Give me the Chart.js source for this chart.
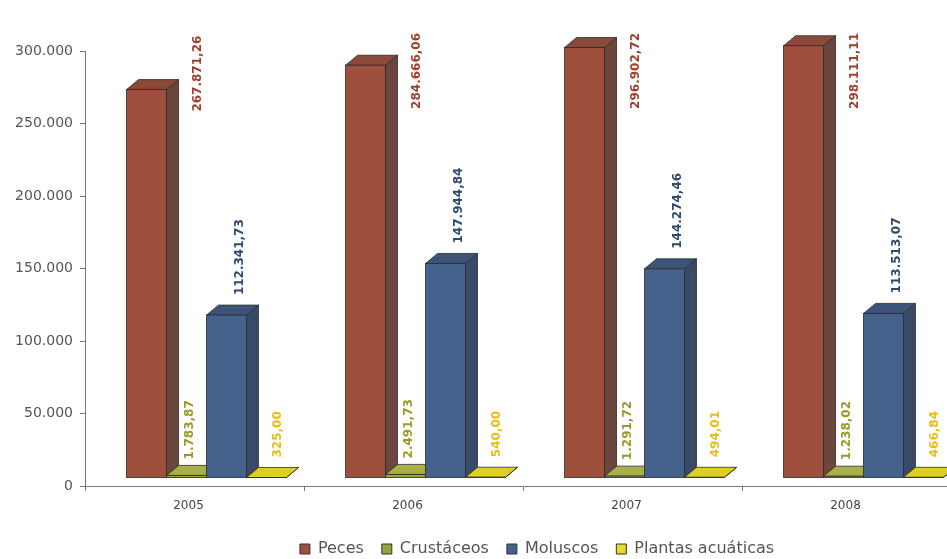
<!DOCTYPE html>
<html>
<head>
<meta charset="utf-8">
<script src="https://cdn.jsdelivr.net/npm/chart.js@4/dist/chart.umd.min.js"></script>
<style>
  html, body { margin: 0; padding: 0; background: #fff; overflow: hidden; }
  #wrap { width: 1074px; height: 567px; }
</style>
</head>
<body>
<div id="wrap"><canvas id="chart"></canvas></div>
<script>
const years = ['2005', '2006', '2007', '2008'];
const peces = [267871.26, 284666.06, 296902.72, 298111.11];
const crustaceos = [1783.87, 2491.73, 1291.72, 1238.02];
const moluscos = [112341.73, 147944.84, 144274.46, 113513.07];
const plantas = [325.00, 540.00, 494.01, 466.84];
const yTicks = [0, 50000, 100000, 150000, 200000, 250000, 300000];

// faces: front, top, side, label colour
const looks = [
  { front: '#9e503c', top: '#8a4a3a', side: '#6c463c', label: '#a0402c', lx: 51, ly: 22 },
  { front: '#9aa23a', top: '#a9b046', side: '#7d8430', label: '#9a9a2a', lx: 3, ly: -16 },
  { front: '#45628c', top: '#3d5478', side: '#394a66', label: '#2f4a70', lx: 13, ly: -20 },
  { front: '#e8dc2a', top: '#ddd020', side: '#c0b41c', label: '#e6bf1a', lx: 11, ly: -20 }
];
const SHIFT_X = 12, SHIFT_Y = -8, DX = 12, DY = 10;

function fmt(v, dec) {
  const parts = v.toFixed(dec).split('.');
  const int = parts[0].replace(/\B(?=(\d{3})+(?!\d))/g, '.');
  return parts[1] ? int + ',' + parts[1] : int;
}

function poly(ctx, pts, fill) {
  ctx.beginPath();
  ctx.moveTo(pts[0][0], pts[0][1]);
  for (let i = 1; i < pts.length; i++) ctx.lineTo(pts[i][0], pts[i][1]);
  ctx.closePath();
  ctx.fillStyle = fill;
  ctx.fill();
  ctx.stroke();
}

// draws the bars as 3D boxes from the bar elements that Chart.js laid out
const bars3d = {
  id: 'bars3d',
  beforeDatasetsDraw(chart) {
    const ctx = chart.ctx;
    ctx.save();
    ctx.lineWidth = 0.8;
    ctx.strokeStyle = '#2b2b2b';
    const n = chart.data.labels.length;
    for (let j = 0; j < n; j++) {
      chart.data.datasets.forEach((ds, i) => {
        const el = chart.getDatasetMeta(i).data[j];
        const look = looks[i];
        const l = el.x - el.width / 2 + SHIFT_X, r = el.x + el.width / 2 + SHIFT_X;
        const t = el.y + SHIFT_Y, b = el.base + SHIFT_Y;
        poly(ctx, [[r, t], [r + DX, t - DY], [r + DX, b - DY], [r, b]], look.side);
        poly(ctx, [[l, t], [r, t], [r + DX, t - DY], [l + DX, t - DY]], look.top);
        ctx.fillStyle = look.front;
        ctx.fillRect(l, t, r - l, b - t);
        ctx.strokeRect(l, t, r - l, b - t);
      });
    }
    // value labels, rotated
    ctx.font = 'bold 12px "DejaVu Sans"';
    ctx.textAlign = 'left';
    ctx.textBaseline = 'middle';
    chart.data.datasets.forEach((ds, i) => {
      const look = looks[i];
      chart.getDatasetMeta(i).data.forEach((el, j) => {
        const text = fmt(ds.data[j], 2);
        const w = ctx.measureText(text).width;
        let start = el.y + SHIFT_Y + look.ly;
        if (i === 0) start = Math.max(start, 33 + w);
        ctx.save();
        ctx.translate(el.x + SHIFT_X + look.lx, start);
        ctx.rotate(-Math.PI / 2);
        ctx.fillStyle = look.label;
        ctx.fillText(text, 0, 0);
        ctx.restore();
      });
    });
    ctx.restore();
    return false;
  }
};

const names = ['Peces', 'Crustáceos', 'Moluscos', 'Plantas acuáticas'];
const series = [peces, crustaceos, moluscos, plantas];

new Chart(document.getElementById('chart'), {
  type: 'bar',
  data: {
    labels: years,
    datasets: series.map((data, i) => ({
      label: names[i],
      data,
      backgroundColor: looks[i].front,
      borderColor: '#333',
      borderWidth: 1,
      categoryPercentage: 0.73,
      barPercentage: 1.0
    }))
  },
  options: {
    responsive: true,
    maintainAspectRatio: false,
    animation: false,
    layout: { padding: { top: 51, right: 0, left: 0, bottom: 0 } },
    plugins: {
      tooltip: { enabled: false },
      legend: {
        position: 'bottom',
        labels: {
          font: { family: 'DejaVu Sans', size: 16 },
          color: '#555',
          boxWidth: 10,
          boxHeight: 10,
          padding: 18
        }
      }
    },
    scales: {
      x: {
        afterFit: (s) => { s.height = 37; },
        grid: { offset: true, drawOnChartArea: false, tickLength: 5, color: '#777' },
        border: { color: '#777' },
        ticks: { font: { family: 'DejaVu Sans', size: 12 }, color: '#444', padding: 8, labelOffset: -6 }
      },
      y: {
        min: 0,
        max: 300000,
        afterFit: (s) => { s.width = 85; },
        afterBuildTicks: (s) => { s.ticks = yTicks.map(v => ({ value: v })); },
        grid: { drawOnChartArea: false, tickLength: 5, color: '#777' },
        border: { color: '#777' },
        ticks: {
          font: { family: 'DejaVu Sans', size: 14 },
          color: '#555',
          padding: 7,
          callback: (v) => fmt(v, 0)
        }
      },
      // empty right margin, keeps the legend centred on the whole canvas
      yRight: {
        type: 'linear',
        position: 'right',
        afterFit: (s) => { s.width = 113; },
        grid: { display: false },
        border: { display: false },
        ticks: { display: false }
      }
    }
  },
  plugins: [bars3d]
});
</script>
</body>
</html>
